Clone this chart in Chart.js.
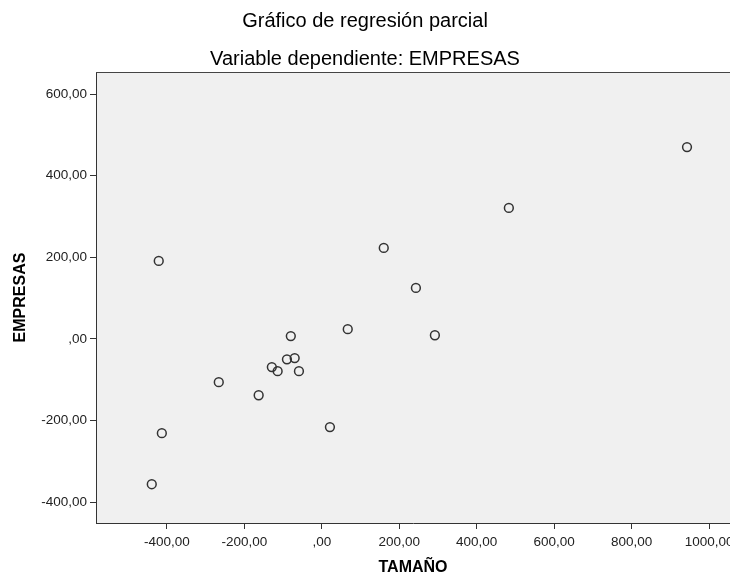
<!DOCTYPE html>
<html lang="es">
<head>
<meta charset="UTF-8">
<title>Gráfico de regresión parcial</title>
<script src="https://cdn.jsdelivr.net/npm/chart.js"></script>
<style>
  html, body { margin: 0; padding: 0; background: #fff; }
  canvas { display: block; }
</style>
</head>
<body>
<canvas id="grafico" width="730" height="577"></canvas>
<script>
// residuos parciales: TAMAÑO (x) frente a EMPRESAS (y)
const tamano   = [943, 483, 160, 243, -421, 67, 292, -80, -70, -90, -129, -114, -59, -266, -163, 21, -413, -439];
const empresas = [470, 321, 223, 125, 191, 24, 9, 7, -47, -50, -69, -79, -79, -106, -138, -216, -231, -356];

const ticksX = [-400, -200, 0, 200, 400, 600, 800, 1000];
const ticksY = [-400, -200, 0, 200, 400, 600];

const fuente = "'Liberation Sans', Arial, sans-serif";

// formato con coma decimal, el cero sale como ",00"
function etiqueta(v) {
    return v === 0 ? ',00' : v.toFixed(2).replace('.', ',');
}

const fondoPlot = {
    id: 'fondoPlot',
    beforeDraw(chart) {
        const a = chart.chartArea, ctx = chart.ctx;
        ctx.save();
        ctx.fillStyle = '#f0f0f0';
        ctx.fillRect(a.left, a.top, a.right - a.left, a.bottom - a.top);
        ctx.restore();
    },
    afterDraw(chart) {
        // línea superior del marco (el lado derecho queda fuera del lienzo)
        const a = chart.chartArea, ctx = chart.ctx;
        ctx.save();
        ctx.strokeStyle = '#444';
        ctx.lineWidth = 1;
        ctx.beginPath();
        ctx.moveTo(a.left, a.top + 0.5);
        ctx.lineTo(a.right, a.top + 0.5);
        ctx.stroke();
        ctx.restore();
    }
};

const datos = tamano.map((x, i) => ({ x: x, y: empresas[i] }));

new Chart(document.getElementById('grafico'), {
    type: 'scatter',
    data: {
        datasets: [{
            data: datos,
            pointStyle: 'circle',
            pointRadius: 4.4,
            pointBorderWidth: 1.5,
            borderColor: '#333',
            backgroundColor: 'rgba(0,0,0,0)'
        }]
    },
    options: {
        responsive: false,
        animation: false,
        devicePixelRatio: 1,
        layout: { padding: 0, autoPadding: false },
        plugins: {
            legend: { display: false },
            tooltip: { enabled: false },
            title: {
                display: true,
                text: 'Gráfico de regresión parcial',
                color: '#000',
                font: { family: fuente, size: 20, weight: 'normal' },
                padding: { top: 9, bottom: 14 }
            },
            subtitle: {
                display: true,
                text: 'Variable dependiente: EMPRESAS',
                color: '#000',
                font: { family: fuente, size: 20, weight: 'normal' },
                padding: { top: 0, bottom: 1 }
            }
        },
        scales: {
            x: {
                type: 'linear',
                min: -583,
                max: 1054,
                afterBuildTicks(s) { s.ticks = ticksX.map(v => ({ value: v })); },
                afterFit(s) { s.height = 54; s.paddingLeft = 0; s.paddingRight = 0; },
                grid: { display: true, drawOnChartArea: false, drawTicks: true, tickLength: 6, color: '#333', lineWidth: 1 },
                border: { display: true, color: '#333', width: 1 },
                ticks: {
                    padding: 5,
                    color: '#222',
                    maxRotation: 0,
                    autoSkip: false,
                    font: { family: fuente, size: 13.5 },
                    callback: v => etiqueta(v)
                },
                title: {
                    display: true,
                    text: 'TAMAÑO',
                    color: '#000',
                    font: { family: fuente, size: 16, weight: 'bold' },
                    padding: { top: 0, bottom: 0 }
                }
            },
            y: {
                type: 'linear',
                min: -451,
                max: 654,
                afterBuildTicks(s) { s.ticks = ticksY.map(v => ({ value: v })); },
                afterFit(s) { s.width = 96; s.paddingTop = 0; s.paddingBottom = 0; },
                grid: { display: true, drawOnChartArea: false, drawTicks: true, tickLength: 6, color: '#333', lineWidth: 1 },
                border: { display: true, color: '#333', width: 1 },
                ticks: {
                    padding: 3,
                    color: '#222',
                    autoSkip: false,
                    font: { family: fuente, size: 13.5 },
                    callback: v => etiqueta(v)
                },
                title: {
                    display: true,
                    text: 'EMPRESAS',
                    color: '#000',
                    font: { family: fuente, size: 16, weight: 'bold' },
                    padding: { top: 11, bottom: 0 }
                }
            }
        }
    },
    plugins: [fondoPlot]
});
</script>
</body>
</html>
